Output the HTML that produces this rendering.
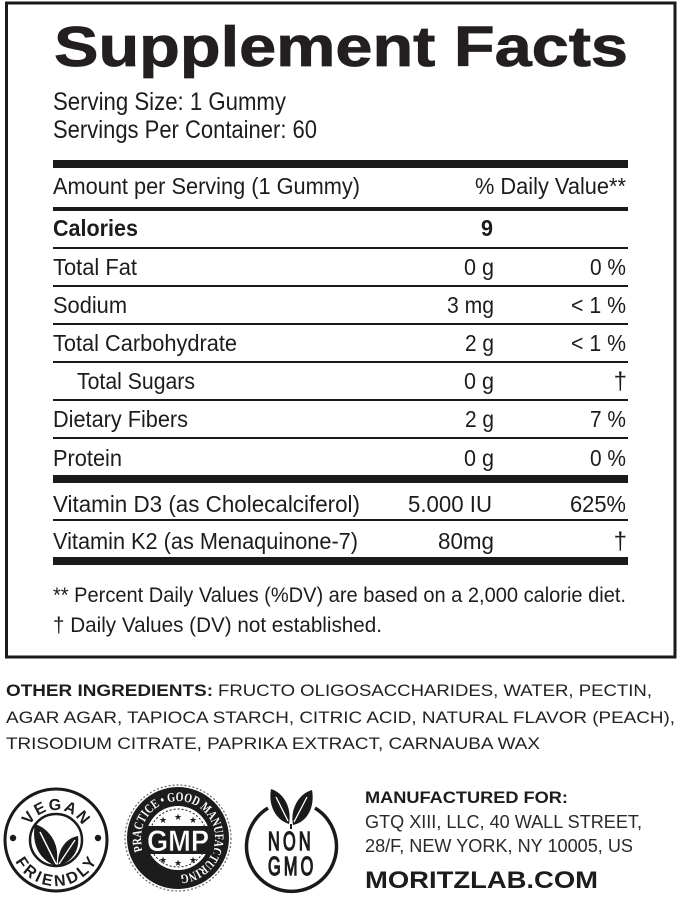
<!DOCTYPE html>
<html>
<head>
<meta charset="utf-8">
<style>
html,body{margin:0;padding:0;background:#fff;}
svg{display:block;}
text{font-family:"Liberation Sans",Arial,sans-serif;fill:#1c1c1c;}
.b{font-weight:bold;}
.r{font-size:23px;}
</style>
</head>
<body>
<svg width="679" height="898" viewBox="0 0 679 898" xmlns="http://www.w3.org/2000/svg">
<rect x="0" y="0" width="679" height="898" fill="#fff"/>
<!-- outer border -->
<rect x="6.5" y="3" width="668.5" height="654" fill="none" stroke="#1a1a1a" stroke-width="3"/>

<!-- title -->
<text x="54" y="66" font-size="57" class="b" textLength="574" lengthAdjust="spacingAndGlyphs" style="font-weight:900;fill:#231f20;stroke:#231f20;stroke-width:0.8">Supplement Facts</text>
<text x="53" y="110" font-size="25" textLength="233" lengthAdjust="spacingAndGlyphs">Serving Size: 1 Gummy</text>
<text x="53" y="138" font-size="25" textLength="264" lengthAdjust="spacingAndGlyphs">Servings Per Container: 60</text>

<!-- rules -->
<rect x="53" y="160" width="575" height="8" fill="#1a1a1a"/>
<rect x="53" y="207" width="575" height="4" fill="#1a1a1a"/>
<rect x="53" y="247" width="575" height="2" fill="#1a1a1a"/>
<rect x="53" y="285" width="575" height="2" fill="#1a1a1a"/>
<rect x="53" y="323" width="575" height="2" fill="#1a1a1a"/>
<rect x="53" y="361" width="575" height="2" fill="#1a1a1a"/>
<rect x="53" y="399" width="575" height="2" fill="#1a1a1a"/>
<rect x="53" y="437" width="575" height="2" fill="#1a1a1a"/>
<rect x="53" y="475" width="575" height="8" fill="#1a1a1a"/>
<rect x="53" y="519" width="575" height="2" fill="#1a1a1a"/>
<rect x="53" y="557" width="575" height="8" fill="#1a1a1a"/>

<!-- header row -->
<text x="53" y="194" class="r" textLength="307" lengthAdjust="spacingAndGlyphs">Amount per Serving (1 Gummy)</text>
<text x="475" y="194" class="r" textLength="151" lengthAdjust="spacingAndGlyphs">% Daily Value**</text>

<!-- calories -->
<text x="53" y="236" class="r b" textLength="85" lengthAdjust="spacingAndGlyphs">Calories</text>
<text x="481" y="236" class="r b" textLength="12" lengthAdjust="spacingAndGlyphs">9</text>

<!-- rows -->
<text x="53" y="275" class="r" textLength="84" lengthAdjust="spacingAndGlyphs">Total Fat</text>
<text x="464" y="275" class="r" textLength="30" lengthAdjust="spacingAndGlyphs">0 g</text>
<text x="590" y="275" class="r" textLength="36" lengthAdjust="spacingAndGlyphs">0 %</text>

<text x="53" y="313" class="r" textLength="74" lengthAdjust="spacingAndGlyphs">Sodium</text>
<text x="447" y="313" class="r" textLength="47" lengthAdjust="spacingAndGlyphs">3 mg</text>
<text x="571" y="313" class="r" textLength="55" lengthAdjust="spacingAndGlyphs">&lt; 1 %</text>

<text x="53" y="351" class="r" textLength="184" lengthAdjust="spacingAndGlyphs">Total Carbohydrate</text>
<text x="465" y="351" class="r" textLength="29" lengthAdjust="spacingAndGlyphs">2 g</text>
<text x="571" y="351" class="r" textLength="55" lengthAdjust="spacingAndGlyphs">&lt; 1 %</text>

<text x="77" y="389" class="r" textLength="118" lengthAdjust="spacingAndGlyphs">Total Sugars</text>
<text x="464" y="389" class="r" textLength="30" lengthAdjust="spacingAndGlyphs">0 g</text>
<text x="627" y="389" font-size="24" text-anchor="end">†</text>

<text x="53" y="427" class="r" textLength="135" lengthAdjust="spacingAndGlyphs">Dietary Fibers</text>
<text x="465" y="427" class="r" textLength="29" lengthAdjust="spacingAndGlyphs">2 g</text>
<text x="590" y="427" class="r" textLength="36" lengthAdjust="spacingAndGlyphs">7 %</text>

<text x="53" y="466" class="r" textLength="69" lengthAdjust="spacingAndGlyphs">Protein</text>
<text x="464" y="466" class="r" textLength="30" lengthAdjust="spacingAndGlyphs">0 g</text>
<text x="590" y="466" class="r" textLength="36" lengthAdjust="spacingAndGlyphs">0 %</text>

<text x="53" y="512" class="r" textLength="307" lengthAdjust="spacingAndGlyphs">Vitamin D3 (as Cholecalciferol)</text>
<text x="408" y="512" class="r" textLength="84" lengthAdjust="spacingAndGlyphs">5.000 IU</text>
<text x="570" y="512" class="r" textLength="56" lengthAdjust="spacingAndGlyphs">625%</text>

<text x="53" y="549" class="r" textLength="305" lengthAdjust="spacingAndGlyphs">Vitamin K2 (as Menaquinone-7)</text>
<text x="438" y="549" class="r" textLength="56" lengthAdjust="spacingAndGlyphs">80mg</text>
<text x="627" y="549" font-size="24" text-anchor="end">†</text>

<!-- footnotes -->
<text x="53" y="602" font-size="21.5" textLength="573" lengthAdjust="spacingAndGlyphs">** Percent Daily Values (%DV) are based on a 2,000 calorie diet.</text>
<text x="53" y="632" font-size="21.5" textLength="329" lengthAdjust="spacingAndGlyphs">† Daily Values (DV) not established.</text>

<!-- ingredients -->
<text x="6" y="696" font-size="16.5" class="b" textLength="207" lengthAdjust="spacingAndGlyphs">OTHER INGREDIENTS:</text>
<text x="218" y="696" font-size="16.5" textLength="434" lengthAdjust="spacingAndGlyphs" style="fill:#222">FRUCTO OLIGOSACCHARIDES, WATER, PECTIN,</text>
<text x="6" y="723" font-size="16.5" textLength="669" lengthAdjust="spacingAndGlyphs" style="fill:#222">AGAR AGAR, TAPIOCA STARCH, CITRIC ACID, NATURAL FLAVOR (PEACH),</text>
<text x="6" y="749" font-size="16.5" textLength="534" lengthAdjust="spacingAndGlyphs" style="fill:#222">TRISODIUM CITRATE, PAPRIKA EXTRACT, CARNAUBA WAX</text>

<!-- VEGAN FRIENDLY logo -->
<defs>
  <path id="vtop" d="M26,840 A30,30 0 0 1 86,840"/>
  <path id="vbot" d="M10,840 A46,46 0 0 0 102,840"/>
  <path id="gring" d="M178,875 A37,37 0 1 1 178,801 A37,37 0 1 1 178,875"/>
</defs>
<circle cx="56" cy="840" r="51" fill="none" stroke="#1a1a1a" stroke-width="3"/>
<circle cx="56" cy="840" r="26" fill="none" stroke="#1a1a1a" stroke-width="2.5"/>
<circle cx="13" cy="838" r="3.2" fill="#1a1a1a"/>
<circle cx="98" cy="838" r="3.2" fill="#1a1a1a"/>
<text font-size="16" class="b"><textPath href="#vtop" startOffset="15" textLength="64" lengthAdjust="spacing">VEGAN</textPath></text>
<text font-size="16" class="b"><textPath href="#vbot" startOffset="22" textLength="100" lengthAdjust="spacing">FRIENDLY</textPath></text>
<path d="M56,866 C40,860 31,845 35,824 C50,829 61,845 56,866 Z" fill="#1a1a1a"/>
<path d="M56,864 L40,832" stroke="#fff" stroke-width="1.5"/>
<path d="M58,866 C72,862 80,850 78,836 C66,838 57,850 58,866 Z" fill="#1a1a1a"/>
<path d="M59,864 L75,840" stroke="#fff" stroke-width="1.3"/>

<!-- GMP logo -->
<circle cx="178" cy="838" r="53" fill="none" stroke="#666" stroke-width="1.2" stroke-dasharray="2 2"/>
<circle cx="178" cy="838" r="51" fill="#1c1c1c"/>
<circle cx="178" cy="838" r="32" fill="#fff"/>
<circle cx="178" cy="838" r="29" fill="none" stroke="#1c1c1c" stroke-width="1" stroke-dasharray="2 2"/>
<text font-size="13" style="font-family:'Liberation Serif',serif;font-weight:bold;fill:#fff"><textPath href="#gring" startOffset="45" textLength="185" lengthAdjust="spacingAndGlyphs">PRACTICE • GOOD MANUFACTURING</textPath></text>
<text x="163" y="823" font-size="9" text-anchor="middle">★</text>
<text x="178" y="820" font-size="9" text-anchor="middle">★</text>
<text x="193" y="823" font-size="9" text-anchor="middle">★</text>
<text x="163" y="863" font-size="9" text-anchor="middle">★</text>
<text x="178" y="866" font-size="9" text-anchor="middle">★</text>
<text x="193" y="863" font-size="9" text-anchor="middle">★</text>
<rect x="142" y="826" width="72" height="28" rx="4" fill="#1c1c1c"/>
<text x="147" y="851" font-size="30" class="b" textLength="62" lengthAdjust="spacingAndGlyphs" style="fill:#fff;stroke:#1c1c1c;stroke-width:0.5">GMP</text>

<!-- NON GMO logo -->
<path d="M268,808 A45,45 0 1 0 315,808" fill="none" stroke="#1a1a1a" stroke-width="3.5"/>
<path d="M289,824 C276,820 268,806 271,789 C284,793 292,808 289,824 Z" fill="#1a1a1a"/>
<path d="M288,821 L276,797" stroke="#fff" stroke-width="1.3"/>
<path d="M293,825 C308,822 315,806 312,790 C298,794 290,810 293,825 Z" fill="#1a1a1a"/>
<path d="M294,822 L307,797" stroke="#fff" stroke-width="1.3"/>
<path d="M291,824 L291,829" stroke="#1a1a1a" stroke-width="2"/>
<g transform="translate(268,0) scale(0.64,1)">
<text x="0" y="850" font-size="25.5" letter-spacing="5" style="stroke:#1c1c1c;stroke-width:1.4">NON</text>
<text x="0" y="875" font-size="25.5" letter-spacing="5" style="stroke:#1c1c1c;stroke-width:1.4">GMO</text>
</g>

<!-- manufacturer -->
<text x="365" y="803" font-size="17" class="b" textLength="203" lengthAdjust="spacingAndGlyphs">MANUFACTURED FOR:</text>
<text x="365" y="828" font-size="18.5" textLength="277" lengthAdjust="spacingAndGlyphs" style="fill:#2a2a2a">GTQ XIII, LLC, 40 WALL STREET,</text>
<text x="365" y="852" font-size="18.5" textLength="268" lengthAdjust="spacingAndGlyphs" style="fill:#2a2a2a">28/F, NEW YORK, NY 10005, US</text>
<text x="365" y="888" font-size="24.5" class="b" textLength="233" lengthAdjust="spacingAndGlyphs">MORITZLAB.COM</text>
</svg>
</body>
</html>
